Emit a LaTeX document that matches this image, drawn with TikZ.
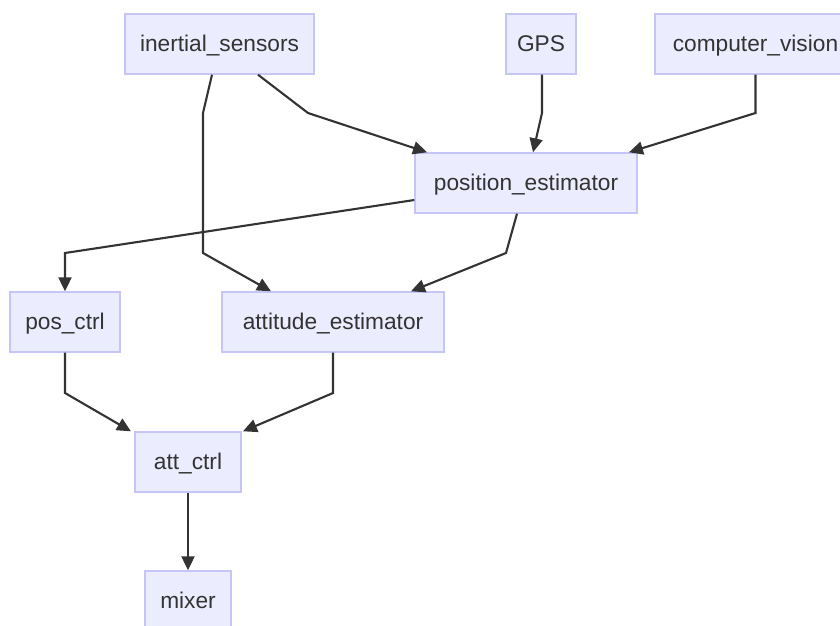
\documentclass[tikz,border=0pt]{standalone}
\usepackage{fontspec}
\setmainfont{Liberation Sans}
\usetikzlibrary{arrows.meta}
\definecolor{boxfill}{HTML}{ECECFF}
\definecolor{boxline}{HTML}{C6C6F6}
\definecolor{ink}{HTML}{333333}
\tikzset{
  block/.style={draw=boxline, fill=boxfill, line width=1.4pt, minimum height=60pt,
    inner sep=0pt, text=ink, text height=17pt, text depth=3pt,
    font=\fontsize{22.7}{27}\selectfont},
  flow/.style={draw=ink, line width=2.1pt, -{Triangle[length=14pt,width=13pt]}}
}

\begin{document}
\begin{tikzpicture}[x=1pt,y=-1pt]
  \clip (0,0) rectangle (840,625);

  % Sensors
  \node[block, minimum width=189pt] (ins) at (219.5,44) {inertial\_sensors};
  \node[block, minimum width=70pt] (gps) at (541,44) {GPS};
  \node[block, minimum width=201pt] (cv) at (755.5,44) {computer\_vision};

  % Estimators
  \node[block, minimum width=222pt] (pe) at (526,183) {position\_estimator};
  \node[block, minimum width=110pt] (pc) at (65,322) {pos\_ctrl};
  \node[block, minimum width=222pt] (ae) at (333,322) {attitude\_estimator};

  % Control chain
  \node[block, minimum width=106pt] (ac) at (188,462) {att\_ctrl};
  \node[block, minimum width=86pt] (mx) at (188,601) {mixer};

  % Sensor links
  \draw[flow] ([xshift=38.5pt]ins.south) -- (308,113) -- ([xshift=-99pt]pe.north);
  \draw[flow] ([xshift=-7.5pt]ins.south) -- (203,113) -- (203,253) -- ([xshift=-62pt]ae.north);
  \draw[flow] ([xshift=1pt]gps.south) -- (542,113) -- ([xshift=7pt]pe.north);
  \draw[flow] (cv.south) -- (755.5,113) -- ([xshift=103pt]pe.north);

  % Estimator outputs
  \draw[flow] ([yshift=-17pt]pe.west) -- (65,253) -- (pc.north);
  \draw[flow] ([xshift=-9pt]pe.south) -- (506,253) -- ([xshift=78pt]ae.north);

  % Controllers
  \draw[flow] (pc.south) -- (65,393) -- ([xshift=-57pt]ac.north);
  \draw[flow] (ae.south) -- (333,393) -- ([xshift=55pt]ac.north);
  \draw[flow] (ac) -- (mx);
\end{tikzpicture}
\end{document}
